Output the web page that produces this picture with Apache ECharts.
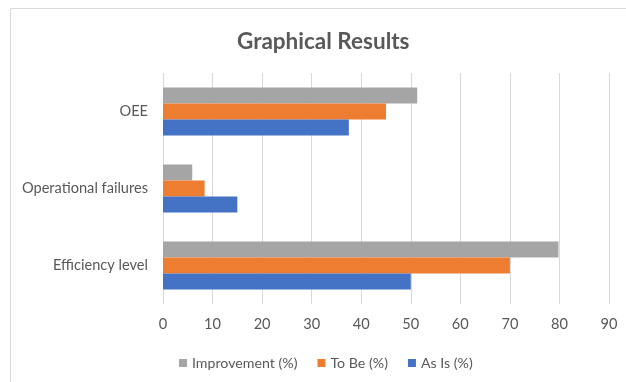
<!DOCTYPE html>
<html>
<head>
<meta charset="utf-8">
<script src="https://cdn.jsdelivr.net/npm/echarts@6/dist/echarts.min.js"></script>
<style>html,body{margin:0;padding:0;background:#fff;}#c{width:626px;height:382px;}</style>
</head>
<body>
<div id="c"></div>
<script>
var categories = ['Efficiency level', 'Operational failures', 'OEE'];
var asIs = [50, 15, 37.5];
var toBe = [70, 8.4, 45];
var improvement = [79.8, 5.9, 51.3];
var xTicks = [0, 10, 20, 30, 40, 50, 60, 70, 80, 90];

var chart = echarts.init(document.getElementById('c'));
var font = 'Lato';
var txt = '#595959';
chart.setOption({
  animation: false,
  backgroundColor: '#fff',
  title: {
    text: 'Graphical Results',
    left: 232,
    top: 25,
    textStyle: {fontFamily: font, fontSize: 22.5, fontWeight: 'bold', color: txt}
  },
  graphic: [{
    type: 'rect',
    shape: {x: 10.5, y: 8.5, width: 700, height: 500},
    style: {fill: 'none', stroke: '#d9d9d9', lineWidth: 1},
    silent: true
  }],
  legend: {
    top: 351,
    left: 174,
    itemWidth: 8,
    itemHeight: 8,
    itemGap: 20,
    icon: 'rect',
    textStyle: {fontFamily: font, fontSize: 14.2, color: txt},
    data: ['Improvement (%)', 'To Be (%)', 'As Is (%)']
  },
  grid: {left: 163, right: 17, top: 73, bottom: 78, containLabel: false},
  xAxis: {
    type: 'value',
    min: xTicks[0],
    max: xTicks[xTicks.length - 1],
    interval: 10,
    axisLine: {show: false},
    axisTick: {show: false},
    splitLine: {lineStyle: {color: '#d9d9d9', width: 1}},
    axisLabel: {fontFamily: font, fontSize: 14.6, color: txt, margin: 13}
  },
  yAxis: {
    type: 'category',
    data: categories,
    axisLine: {show: false},
    axisTick: {show: false},
    axisLabel: {fontFamily: font, fontSize: 14.6, color: txt, margin: 15}
  },
  series: [
    {name: 'Improvement (%)', type: 'bar', data: improvement, barWidth: 16, barGap: '0%', itemStyle: {color: '#A5A5A5'}},
    {name: 'To Be (%)', type: 'bar', data: toBe, barWidth: 16, barGap: '0%', itemStyle: {color: '#ED7D31'}},
    {name: 'As Is (%)', type: 'bar', data: asIs, barWidth: 16, barGap: '0%', itemStyle: {color: '#4472C4'}}
  ]
});
</script>
</body>
</html>
